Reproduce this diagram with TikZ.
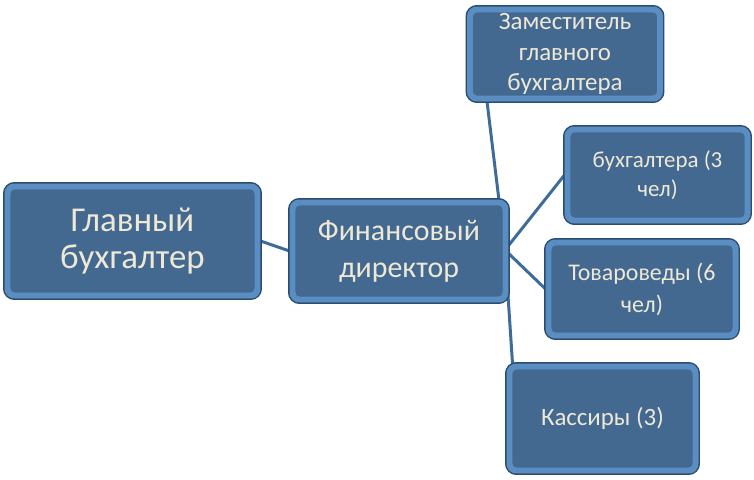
\documentclass[tikz,border=0pt]{standalone}
\usepackage{fontspec}
\setmainfont{Carlito}
\usetikzlibrary{shadows,backgrounds,calc}
\definecolor{face}{HTML}{436990}
\definecolor{bevel}{HTML}{5A8EC2}
\definecolor{rim}{HTML}{2A4C70}
\definecolor{txt}{HTML}{EEE8D6}
\definecolor{conn}{HTML}{3D6C99}
\tikzset{
  box/.style={rectangle, rounded corners=7pt, fill=face, draw=bevel, line width=6pt,
    preaction={draw=rim, line width=9pt},
    drop shadow={shadow xshift=2pt, shadow yshift=-3pt, opacity=0.35},
    text=txt, align=center, inner sep=0pt},
  conline/.style={draw=conn, line width=3pt}
}
\begin{document}
\begin{tikzpicture}[x=1bp,y=-1bp]
\useasboundingbox (0,0) rectangle (754,480);
\node[box, minimum width=250bp, minimum height=109bp, font=\fontsize{35}{38}\selectfont] (glav) at (132.5,241) {Главный\\бухгалтер};
\node[box, minimum width=213bp, minimum height=97bp, font=\fontsize{30}{37}\selectfont] (fin) at (399,251) {Финансовый\\директор};
\node[box, minimum width=190bp, minimum height=89bp, font=\fontsize{25}{31}\selectfont] (zam) at (565,54) {Заместитель\\главного\\бухгалтера};
\node[box, minimum width=180bp, minimum height=91bp, font=\fontsize{23}{29}\selectfont] (buh) at (657.5,175) {бухгалтера (3\\чел)};
\node[box, minimum width=187bp, minimum height=93bp, font=\fontsize{24}{32}\selectfont] (tov) at (642,289) {Товароведы (6\\чел)};
\node[box, minimum width=186bp, minimum height=104bp, font=\fontsize{25}{30}\selectfont] (kas) at (602.5,418.5) {Кассиры (3)};
\coordinate (hub) at (505,250);
\begin{pgfonlayer}{background}
\draw[conline] (glav.east) -- (fin.west);
\draw[conline] ([xshift=20bp]zam.south west) -- (hub) -- ([xshift=6bp]kas.north west);
\draw[conline] (hub) -- (buh.west);
\draw[conline] (hub) -- (tov.west);
\end{pgfonlayer}
\end{tikzpicture}
\end{document}
